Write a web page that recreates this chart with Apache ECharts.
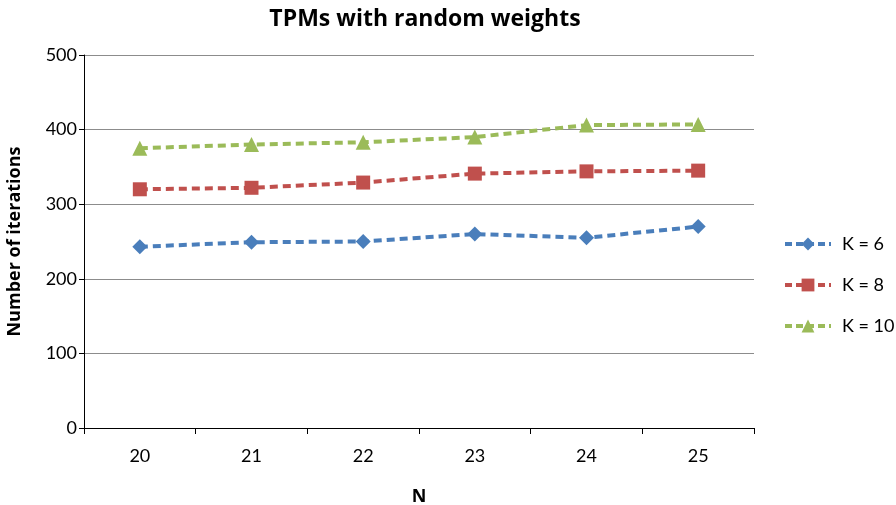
<!DOCTYPE html>
<html>
<head>
<meta charset="utf-8">
<script src="https://cdn.jsdelivr.net/npm/echarts@6/dist/echarts.min.js"></script>
<style>
  html, body { margin: 0; padding: 0; background: #fff; }
  #chart { width: 896px; height: 505px; }
</style>
</head>
<body>
<div id="chart"></div>
<script>
// data
var categories = ['20', '21', '22', '23', '24', '25']
var k6 = [243, 249, 250, 260, 255, 270]
var k8 = [320, 322, 329, 341, 344, 345]
var k10 = [375, 380, 383, 390, 406, 407]

var font = 'Lato, "Open Sans", sans-serif'
var boldFont = '"Open Sans", Lato, sans-serif'

function lineSeries(name, data, color, symbol) {
  return {
    name: name,
    type: 'line',
    data: data,
    symbol: symbol,
    symbolSize: symbol === 'rect' ? 14 : 15,
    showSymbol: true,
    itemStyle: { color: color },
    lineStyle: { color: color, width: 4, type: [8, 5] },
    animation: false
  }
}

var chart = echarts.init(document.getElementById('chart'))
chart.setOption({
  backgroundColor: '#fff',
  title: {
    text: 'TPMs with random weights',
    left: 420,
    top: 3,
    textAlign: 'center',
    textStyle: { fontFamily: boldFont, fontSize: 23, fontWeight: 'bold', color: '#000' }
  },
  legend: {
    orient: 'vertical',
    left: 778,
    top: 230,
    itemWidth: 46,
    itemHeight: 16,
    itemGap: 23,
    lineStyle: { width: 4, type: [7, 4] },
    textStyle: { fontFamily: font, fontSize: 18, color: '#000', padding: [0, 0, 0, 6] },
    data: ['K = 6', 'K = 8', 'K = 10']
  },
  grid: { left: 84, right: 142, top: 55, bottom: 77, outerBoundsMode: 'none', containLabel: false },
  xAxis: {
    type: 'category',
    data: categories,
    boundaryGap: true,
    name: 'N',
    nameLocation: 'middle',
    nameGap: 60,
    nameTextStyle: { fontFamily: boldFont, fontSize: 18, fontWeight: 'bold', color: '#000' },
    axisLine: { lineStyle: { color: '#000', width: 1 } },
    axisTick: { show: true, alignWithLabel: false, length: 6, lineStyle: { color: '#000' } },
    axisLabel: { fontFamily: font, fontSize: 18, color: '#000', margin: 19 },
    splitLine: { show: false }
  },
  yAxis: {
    type: 'value',
    min: 0,
    max: 500,
    interval: 100,
    name: 'Number of iterations',
    nameLocation: 'middle',
    nameGap: 60,
    nameTextStyle: { fontFamily: boldFont, fontSize: 18, fontWeight: 'bold', color: '#000' },
    axisLine: { show: true, lineStyle: { color: '#000', width: 1 } },
    axisTick: { show: true, length: 5, lineStyle: { color: '#000' } },
    axisLabel: { fontFamily: font, fontSize: 18, color: '#000', margin: 7 },
    splitLine: { show: true, lineStyle: { color: '#8c8c8c', width: 1 } }
  },
  series: [
    lineSeries('K = 6', k6, '#4a7ebb', 'diamond'),
    lineSeries('K = 8', k8, '#c0504d', 'rect'),
    lineSeries('K = 10', k10, '#9bbb59', 'triangle')
  ]
})
</script>
</body>
</html>
